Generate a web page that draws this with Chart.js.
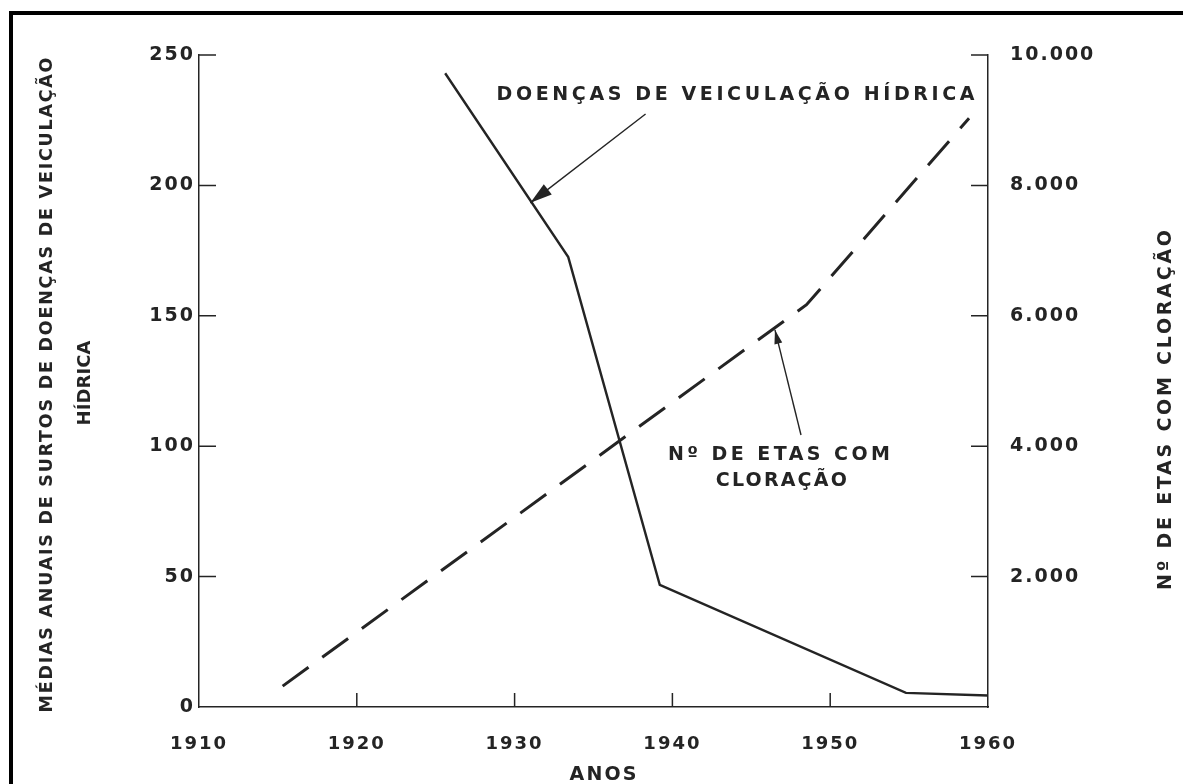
<!DOCTYPE html>
<html>
<head>
<meta charset="utf-8">
<script src="https://cdn.jsdelivr.net/npm/chart.js@4.4.0/dist/chart.umd.min.js"></script>
<style>
html, body { margin: 0; padding: 0; background: #fff; }
#wrap { width: 1183px; height: 784px; position: relative; }
</style>
</head>
<body>
<div id="wrap"><canvas id="cloracaoChart"></canvas></div>
<script>
// valores
let anosDoencas = [1925.6, 1933.4, 1939.2, 1954.8, 1960];
let surtosDoencas = [243, 172.5, 46.8, 5.4, 4.4];
let anosEtas = [1915.3, 1948.5, 1958.8];
let numEtas = [320, 6170, 9030];

let anosTicks = [1910, 1920, 1930, 1940, 1950, 1960];
let surtosTicks = [0, 50, 100, 150, 200, 250];
let etasTicks = [0, 2000, 4000, 6000, 8000, 10000];

const INK = '#242424';
const FAMILY = "'DejaVu Sans'";

function spaced(ctx, text, x, y, width, angle, size) {
	ctx.save();
	ctx.font = 'bold ' + size + 'px ' + FAMILY;
	ctx.fillStyle = INK;
	ctx.textBaseline = 'middle';
	ctx.textAlign = 'left';
	ctx.letterSpacing = '0px';
	const w0 = ctx.measureText(text).width;
	const n = [...text].length;
	ctx.letterSpacing = ((width - w0) / (n - 1)) + 'px';
	ctx.translate(x, y);
	ctx.rotate(angle);
	ctx.fillText(text, -width / 2, 0);
	ctx.restore();
}

function arrow(ctx, x0, y0, x1, y1, len, half) {
	ctx.save();
	ctx.strokeStyle = INK;
	ctx.fillStyle = INK;
	ctx.lineWidth = 1.4;
	ctx.beginPath();
	ctx.moveTo(x0, y0);
	ctx.lineTo(x1, y1);
	ctx.stroke();
	const a = Math.atan2(y1 - y0, x1 - x0);
	ctx.beginPath();
	ctx.moveTo(x1, y1);
	ctx.lineTo(x1 - len * Math.cos(a) + half * Math.sin(a), y1 - len * Math.sin(a) - half * Math.cos(a));
	ctx.lineTo(x1 - len * Math.cos(a) - half * Math.sin(a), y1 - len * Math.sin(a) + half * Math.cos(a));
	ctx.closePath();
	ctx.fill();
	ctx.restore();
}

// moldura, marcas internas, títulos e anotações
const desenho = {
	id: 'desenho',
	beforeDraw(chart) {
		const ctx = chart.ctx;
		ctx.save();
		ctx.fillStyle = '#000';
		ctx.fillRect(9, 11, 1174, 4);
		ctx.fillRect(9, 11, 4, 773);
		ctx.restore();
		ctx.letterSpacing = '2px';
	},
	afterDraw(chart) {
		const { ctx, chartArea: a, scales } = chart;
		const x = scales.x, y = scales.y, y1 = scales.y1;
		ctx.save();
		ctx.letterSpacing = '0px';
		ctx.strokeStyle = INK;
		ctx.lineWidth = 1.5;
		ctx.beginPath();
		y.ticks.forEach(t => {
			if (t.value === 0) return;
			const p = y.getPixelForValue(t.value);
			ctx.moveTo(a.left, p); ctx.lineTo(a.left + 17, p);
		});
		y1.ticks.forEach(t => {
			if (t.value === 0) return;
			const p = y1.getPixelForValue(t.value);
			ctx.moveTo(a.right, p); ctx.lineTo(a.right - 17, p);
		});
		x.ticks.forEach(t => {
			if (t.value === 1910 || t.value === 1960) return;
			const p = x.getPixelForValue(t.value);
			ctx.moveTo(p, a.bottom); ctx.lineTo(p, a.bottom - 14);
		});
		ctx.stroke();
		ctx.restore();

		// títulos dos eixos
		const midY = (a.top + a.bottom) / 2;
		spaced(ctx, 'MÉDIAS ANUAIS DE SURTOS DE DOENÇAS DE VEICULAÇÃO', 47, midY + 4, 655, -Math.PI / 2, 17.5);
		spaced(ctx, 'HÍDRICA', 85, midY + 2, 85, -Math.PI / 2, 18);
		spaced(ctx, 'Nº DE ETAS COM CLORAÇÃO', 1166, 410, 360, -Math.PI / 2, 19);
		spaced(ctx, 'ANOS', 603, 775, 67, 0, 19);

		// anotações (posições em unidades dos dados)
		const px = v => x.getPixelForValue(v);
		const py = v => y.getPixelForValue(v);
		spaced(ctx, 'DOENÇAS DE VEICULAÇÃO HÍDRICA', px(1944.0), py(234.7), 478, 0, 19);
		arrow(ctx, px(1938.3), py(227.4), px(1931.0), py(193.3), 22, 6.5);
		spaced(ctx, 'Nº DE ETAS COM', px(1946.75), py(96.6), 222, 0, 19);
		spaced(ctx, 'CLORAÇÃO', px(1946.9), py(86.7), 131, 0, 19);
		arrow(ctx, px(1948.15), py(104.3), px(1946.5), py(144.6), 14, 4);
	}
};

const yFont = { family: FAMILY, size: 19, weight: 'bold' };
const xFont = { family: FAMILY, size: 18, weight: 'bold' };

var ctx = document.getElementById('cloracaoChart').getContext('2d');
var cloracaoChart = new Chart(ctx, {
	type: 'line',
	data: {
		datasets: [{
			label: 'Doenças de veiculação hídrica',
			data: anosDoencas.map((ano, i) => ({ x: ano, y: surtosDoencas[i] })),
			borderColor: INK,
			borderWidth: 2.4,
			pointRadius: 0,
			tension: 0,
			yAxisID: 'y'
		}, {
			label: 'Nº de ETAs com cloração',
			data: anosEtas.map((ano, i) => ({ x: ano, y: numEtas[i] })),
			borderColor: INK,
			borderWidth: 3,
			borderDash: [32, 17],
			pointRadius: 0,
			tension: 0,
			yAxisID: 'y1'
		}]
	},
	options: {
		responsive: true,
		maintainAspectRatio: false,
		animation: false,
		layout: { padding: { top: 55, left: 0, right: 0, bottom: 0 } },
		plugins: {
			legend: { display: false },
			tooltip: { enabled: false }
		},
		scales: {
			x: {
				type: 'linear',
				min: 1910,
				max: 1960,
				afterBuildTicks: s => { s.ticks = anosTicks.map(v => ({ value: v })); },
				afterFit: s => { s.height = 77; },
				grid: { display: false, drawTicks: false },
				border: { display: true, color: INK, width: 1.5 },
				ticks: { color: INK, font: xFont, padding: 27, maxRotation: 0, autoSkip: false, callback: v => String(v) }
			},
			y: {
				position: 'left',
				min: 0,
				max: 250,
				afterBuildTicks: s => { s.ticks = surtosTicks.map(v => ({ value: v })); },
				afterFit: s => { s.width = 199; },
				grid: { display: false, drawTicks: false },
				border: { display: true, color: INK, width: 1.5 },
				ticks: { color: INK, font: yFont, padding: 4, callback: v => String(v) }
			},
			y1: {
				position: 'right',
				min: 0,
				max: 10000,
				afterBuildTicks: s => { s.ticks = etasTicks.map(v => ({ value: v })); },
				afterFit: s => { s.width = 195; },
				grid: { display: false, drawTicks: false },
				border: { display: true, color: INK, width: 1.5 },
				ticks: {
					color: INK, font: yFont, padding: 22,
					callback: v => v === 0 ? '' : String(v).replace(/\B(?=(\d{3})+(?!\d))/g, '.')
				}
			}
		}
	},
	plugins: [desenho]
});
</script>
</body>
</html>
